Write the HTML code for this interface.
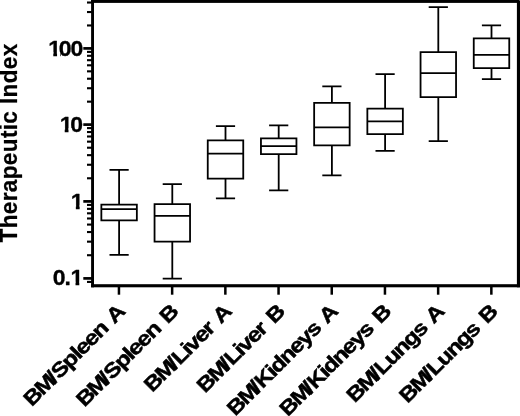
<!DOCTYPE html>
<html><head><meta charset="utf-8"><title>Therapeutic Index</title>
<style>html,body{margin:0;padding:0;background:#fff}svg{display:block}text{font-family:"Liberation Sans",Arial,Helvetica,sans-serif;font-weight:bold;fill:#000}</style></head><body>
<svg width="520" height="416" viewBox="0 0 520 416">
<rect width="520" height="416" fill="#fff"/>
<g fill="#000">
<rect x="91.1" y="0" width="2.9" height="287.3"/>
<rect x="91.1" y="0" width="428.3" height="2.9"/>
<rect x="516.9" y="0.6" width="3.1" height="286.7"/>
<rect x="91.1" y="284.2" width="428.7" height="3.1"/>
<rect x="87" y="280.87" width="5" height="2.1"/>
<rect x="83.3" y="277.05" width="9" height="2.7"/>
<rect x="87" y="254.17" width="5" height="2.1"/>
<rect x="87" y="240.61" width="5" height="2.1"/>
<rect x="87" y="230.99" width="5" height="2.1"/>
<rect x="87" y="223.53" width="5" height="2.1"/>
<rect x="87" y="217.43" width="5" height="2.1"/>
<rect x="87" y="212.28" width="5" height="2.1"/>
<rect x="87" y="207.81" width="5" height="2.1"/>
<rect x="87" y="203.87" width="5" height="2.1"/>
<rect x="83.3" y="200.05" width="9" height="2.7"/>
<rect x="87" y="177.23" width="5" height="2.1"/>
<rect x="87" y="163.71" width="5" height="2.1"/>
<rect x="87" y="154.11" width="5" height="2.1"/>
<rect x="87" y="146.67" width="5" height="2.1"/>
<rect x="87" y="140.59" width="5" height="2.1"/>
<rect x="87" y="135.45" width="5" height="2.1"/>
<rect x="87" y="130.99" width="5" height="2.1"/>
<rect x="87" y="127.06" width="5" height="2.1"/>
<rect x="83.3" y="123.25" width="9" height="2.7"/>
<rect x="87" y="100.61" width="5" height="2.1"/>
<rect x="87" y="87.19" width="5" height="2.1"/>
<rect x="87" y="77.67" width="5" height="2.1"/>
<rect x="87" y="70.29" width="5" height="2.1"/>
<rect x="87" y="64.25" width="5" height="2.1"/>
<rect x="87" y="59.15" width="5" height="2.1"/>
<rect x="87" y="54.73" width="5" height="2.1"/>
<rect x="87" y="50.84" width="5" height="2.1"/>
<rect x="83.3" y="47.05" width="9" height="2.7"/>
<rect x="87" y="24.41" width="5" height="2.1"/>
<rect x="87" y="10.99" width="5" height="2.1"/>
<rect x="87" y="1.47" width="5" height="2.1"/>
<rect x="117.70" y="286" width="2.5" height="8.7"/>
<rect x="170.90" y="286" width="2.5" height="8.7"/>
<rect x="224.10" y="286" width="2.5" height="8.7"/>
<rect x="277.30" y="286" width="2.5" height="8.7"/>
<rect x="330.50" y="286" width="2.5" height="8.7"/>
<rect x="383.70" y="286" width="2.5" height="8.7"/>
<rect x="436.90" y="286" width="2.5" height="8.7"/>
<rect x="490.10" y="286" width="2.5" height="8.7"/>
</g>
<g fill="none" stroke="#000" stroke-width="1.8">
<path d="M109.50 169.9H128.70M119.10 169.9V204.7M101.35 204.7H136.85V220.3H101.35Z M101.35 209.1H136.85M119.10 220.3V254.8M109.50 254.8H128.70"/>
<path d="M162.70 184.05H181.90M172.30 184.05V204.05M154.55 204.05H190.05V241.55H154.55Z M154.55 215.8H190.05M172.30 241.55V278.55M162.70 278.55H181.90"/>
<path d="M215.90 126.05H235.10M225.50 126.05V140.3M207.75 140.3H243.25V178.55H207.75Z M207.75 153.55H243.25M225.50 178.55V198.3M215.90 198.3H235.10"/>
<path d="M269.10 125.3H288.30M278.70 125.3V138.3M260.95 138.3H296.45V154.05H260.95Z M260.95 146.05H296.45M278.70 154.05V190.3M269.10 190.3H288.30"/>
<path d="M322.30 86.3H341.50M331.90 86.3V102.8M314.15 102.8H349.65V145.3H314.15Z M314.15 127.3H349.65M331.90 145.3V175.3M322.30 175.3H341.50"/>
<path d="M375.50 74.05H394.70M385.10 74.05V108.55M367.35 108.55H402.85V134.05H367.35Z M367.35 121.3H402.85M385.10 134.05V150.9M375.50 150.9H394.70"/>
<path d="M428.70 7.05H447.90M438.30 7.05V52.05M420.55 52.05H456.05V97.05H420.55Z M420.55 73.05H456.05M438.30 97.05V141.05M428.70 141.05H447.90"/>
<path d="M481.90 25.3H501.10M491.50 25.3V38.3M473.75 38.3H509.25V68.05H473.75Z M473.75 54.8H509.25M491.50 68.05V79.05M481.90 79.05H501.10"/>
</g>
<g stroke="#000" stroke-width="0.3" stroke-linejoin="round">
<text transform="translate(81.0,55.70) scale(1.08,1)" font-size="21.3" letter-spacing="-1" text-anchor="end" dx="1.1 -1.1 0">100</text>
<text transform="translate(80.8,132.20) scale(1.08,1)" font-size="21.3" letter-spacing="-1" text-anchor="end" dx="1.1 -1.1">10</text>
<text transform="translate(82.4,209.00) scale(1.08,1)" font-size="21.3" letter-spacing="-1" text-anchor="end" dx="0">1</text>
<text transform="translate(82.3,285.40) scale(1.08,1)" font-size="21.3" letter-spacing="-1" text-anchor="end" dx="0 0 0.75">0.1</text>
<path d="M48.5 52.00H53.29V57.20H48.5ZM57.05 52.00H60.0V57.20H57.05Z" fill="#fff" stroke="none"/>
<path d="M59.7 128.30H64.72V133.50H59.7ZM68.5 128.30H72.1V133.50H68.5Z" fill="#fff" stroke="none"/>
<path d="M70.5 205.30H75.84V210.50H70.5ZM79.66 205.30H84.0V210.50H79.66Z" fill="#fff" stroke="none"/>
<path d="M70.6 281.70H75.52V286.90H70.6ZM79.3 281.70H83.6V286.90H79.3Z" fill="#fff" stroke="none"/>
</g>
<g stroke="#000" stroke-width="0.5" stroke-linejoin="round">
<text transform="translate(17.0,242.5) rotate(-90) scale(0.96,1)" font-size="23.5" letter-spacing="0.38" stroke-width="0.25">Therapeutic Index</text>
<text transform="translate(125.85,313.2) rotate(-45) scale(1.165,1)" font-size="20.6" letter-spacing="-1.13" word-spacing="2.58" text-anchor="end" dx="0 -0.41 -1.55 0.82">BM/Spleen A</text>
<text transform="translate(179.05,313.2) rotate(-45) scale(1.165,1)" font-size="20.6" letter-spacing="-1.13" word-spacing="2.58" text-anchor="end" dx="0 -0.41 -1.55 0.82">BM/Spleen B</text>
<text transform="translate(232.25,313.2) rotate(-45) scale(1.165,1)" font-size="20.6" letter-spacing="-1.13" word-spacing="2.58" text-anchor="end" dx="0 -0.41 -1.55 0.82">BM/Liver A</text>
<text transform="translate(285.45,313.2) rotate(-45) scale(1.165,1)" font-size="20.6" letter-spacing="-1.13" word-spacing="2.58" text-anchor="end" dx="0 -0.41 -1.55 0.82">BM/Liver B</text>
<text transform="translate(338.65,313.2) rotate(-45) scale(1.165,1)" font-size="20.6" letter-spacing="-1.13" word-spacing="2.58" text-anchor="end" dx="0 -0.41 -1.55 0.82">BM/Kidneys A</text>
<text transform="translate(391.85,313.2) rotate(-45) scale(1.165,1)" font-size="20.6" letter-spacing="-1.13" word-spacing="2.58" text-anchor="end" dx="0 -0.41 -1.55 0.82">BM/Kidneys B</text>
<text transform="translate(445.05,313.2) rotate(-45) scale(1.165,1)" font-size="20.6" letter-spacing="-1.13" word-spacing="2.58" text-anchor="end" dx="0 -0.41 -1.55 0.82">BM/Lungs A</text>
<text transform="translate(498.25,313.2) rotate(-45) scale(1.165,1)" font-size="20.6" letter-spacing="-1.13" word-spacing="2.58" text-anchor="end" dx="0 -0.41 -1.55 0.82">BM/Lungs B</text>
</g>
</svg></body></html>
